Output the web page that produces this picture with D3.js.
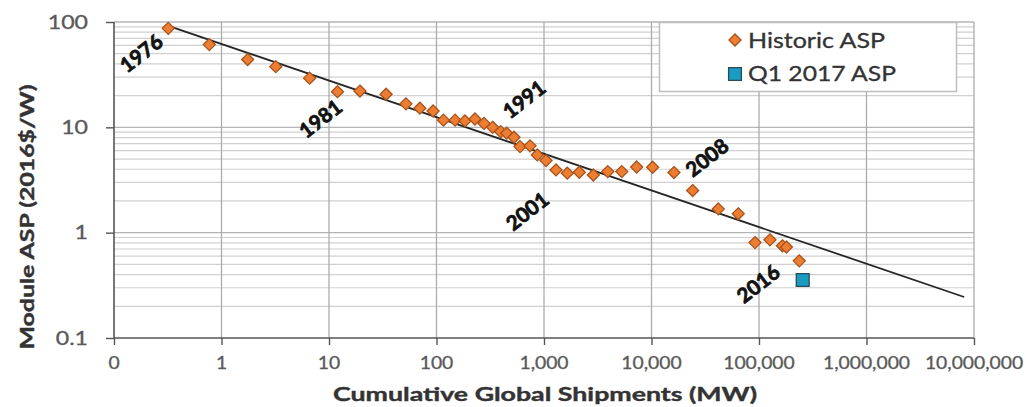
<!DOCTYPE html>
<html>
<head>
<meta charset="utf-8">
<script src="https://cdn.jsdelivr.net/npm/d3@7"></script>
<style>
  html, body { margin: 0; padding: 0; background: #ffffff; }
  svg { display: block; }
  text { font-family: Lato, "Open Sans", "DejaVu Sans", sans-serif; }
</style>
</head>
<body>
<svg id="chart" width="1026" height="407"></svg>
<script>
// Historic module average selling price vs. cumulative global shipments, 1976–2016
const firstYear = 1976;
const shipmentsMW = [0.32, 0.77, 1.75, 3.2, 6.6, 12, 19.4, 34, 52, 70,
  93, 116, 149, 184, 228, 277, 333, 395, 450, 526,
  598, 741, 866, 1045, 1294, 1648, 2130, 2877, 3920, 5290,
  7280, 10250, 16180, 24150, 41800, 64100, 91800, 126500, 165000, 180000,
  237000];
const aspDollars = [87, 61, 44, 37.7, 29.3, 21.8, 22.1, 20.6, 16.7, 15.2,
  14.3, 11.7, 11.7, 11.5, 12.0, 10.9, 10.0, 9.1, 8.8, 8.05,
  6.56, 6.67, 5.47, 4.83, 3.94, 3.67, 3.75, 3.53, 3.80, 3.80,
  4.2, 4.18, 3.72, 2.51, 1.68, 1.51, 0.805, 0.855, 0.75, 0.73,
  0.54];

// Q1 2017 point
const q1Shipments = [255000];
const q1Asp = [0.355];

// Experience-curve fit, endpoints
const trendShipments = [0.32, 8.1e6];
const trendAsp = [92, 0.245];

// Axis ticks and labels
const xTickValues = [0.1, 1, 10, 100, 1e3, 1e4, 1e5, 1e6, 1e7];
const xTickLabels = ["0", "1", "10", "100", "1,000", "10,000", "100,000", "1,000,000", "10,000,000"];
const yTickValues = [0.1, 1, 10, 100];
const yTickLabels = ["0.1", "1", "10", "100"];

// Year callouts (label offset from its point, in px)
const calloutYears = [1976, 1981, 1991, 2001, 2008, 2016];
const calloutDx = [-27, -17, 40, -40, 33, -41];
const calloutDy = [25, 27, -24, 38, -15, 23];

const seriesNames = ["Historic ASP", "Q1 2017 ASP"];

const svg = d3.select("#chart");
const plotLeft = 114, plotRight = 974, plotTop = 22, plotBottom = 338;

const x = d3.scaleLog().domain([0.1, 1e7]).range([plotLeft, plotRight]);
const y = d3.scaleLog().domain([0.1, 100]).range([plotBottom, plotTop]);

// horizontal minor gridlines
const minorY = y.ticks().filter(v => !yTickValues.includes(v));
svg.append("g").selectAll("line").data(minorY).join("line")
  .attr("x1", plotLeft).attr("x2", plotRight)
  .attr("y1", d => y(d)).attr("y2", d => y(d))
  .attr("stroke", "#d0d0d0").attr("stroke-width", 1.2);

// major gridlines
svg.append("g").selectAll("line").data(yTickValues.slice(1)).join("line")
  .attr("x1", plotLeft).attr("x2", plotRight)
  .attr("y1", d => y(d)).attr("y2", d => y(d))
  .attr("stroke", "#b4b4b4").attr("stroke-width", 1.3);
svg.append("g").selectAll("line").data(xTickValues.slice(1)).join("line")
  .attr("x1", d => x(d)).attr("x2", d => x(d))
  .attr("y1", plotTop).attr("y2", plotBottom)
  .attr("stroke", "#acacac").attr("stroke-width", 1.3);

// axes
const xAxis = d3.axisBottom(x).tickValues(xTickValues).tickSize(7).tickFormat("");
const yAxis = d3.axisLeft(y).tickValues(yTickValues).tickSize(8).tickFormat("");
const gx = svg.append("g").attr("transform", `translate(0,${plotBottom})`).call(xAxis);
const gy = svg.append("g").attr("transform", `translate(${plotLeft},0)`).call(yAxis);
[gx, gy].forEach(g => {
  g.select(".domain").attr("stroke", "#555").attr("stroke-width", 1.6);
  g.selectAll(".tick line").attr("stroke", "#555").attr("stroke-width", 1.4);
});
gx.select(".domain").attr("d", `M${plotLeft},0H${plotRight}`);
gy.select(".domain").attr("d", `M0,${plotBottom}V${plotTop}`);

// tick labels (slightly widened glyphs)
svg.append("g").selectAll("text").data(yTickValues).join("text")
  .text((d, i) => yTickLabels[i])
  .attr("text-anchor", "end").attr("dy", "0.36em")
  .attr("font-size", 18.5).attr("fill", "#595959")
  .attr("stroke", "#595959").attr("stroke-width", 0.3)
  .attr("transform", d => `translate(88,${y(d)}) scale(1.25,1)`);
svg.append("g").selectAll("text").data(xTickValues).join("text")
  .text((d, i) => xTickLabels[i])
  .attr("text-anchor", "middle")
  .attr("font-size", 16.5).attr("fill", "#595959")
  .attr("stroke", "#595959").attr("stroke-width", 0.3)
  .attr("transform", d => `translate(${x(d)},369) scale(1.17,1)`);

// axis titles
svg.append("text")
  .text("Cumulative Global Shipments (MW)")
  .attr("x", 545).attr("y", 401).attr("text-anchor", "middle")
  .attr("font-size", 19.5).attr("font-weight", "bold").attr("fill", "#333")
  .attr("stroke", "#333").attr("stroke-width", 0.4)
  .attr("textLength", 424).attr("lengthAdjust", "spacingAndGlyphs");
svg.append("text")
  .text("Module ASP (2016$/W)")
  .attr("text-anchor", "middle")
  .attr("transform", "translate(34,217) rotate(-90)")
  .attr("font-size", 19.5).attr("font-weight", "bold").attr("fill", "#333")
  .attr("stroke", "#333").attr("stroke-width", 0.4)
  .attr("textLength", 265).attr("lengthAdjust", "spacingAndGlyphs");

// trend line
const line = d3.line().x(d => x(d[0])).y(d => y(d[1]));
svg.append("path")
  .datum(trendShipments.map((s, i) => [s, trendAsp[i]]))
  .attr("d", line)
  .attr("fill", "none").attr("stroke", "#262626").attr("stroke-width", 1.8);

// historic points
const diamond = d3.symbol().type(d3.symbolDiamond2).size(92);
svg.append("g").selectAll("path").data(shipmentsMW).join("path")
  .attr("d", diamond)
  .attr("transform", (d, i) => `translate(${x(d)},${y(aspDollars[i])})`)
  .attr("fill", "#ED7D31").attr("stroke", "#A8521C").attr("stroke-width", 1.3);

// Q1 2017 point
const square = d3.symbol().type(d3.symbolSquare).size(165);
svg.append("g").selectAll("path").data(q1Shipments).join("path")
  .attr("d", square)
  .attr("transform", (d, i) => `translate(${x(d)},${y(q1Asp[i])})`)
  .attr("fill", "#1A9BC2").attr("stroke", "#2E4A58").attr("stroke-width", 1.3);

// year callouts
svg.append("g").selectAll("text").data(calloutYears).join("text")
  .text(d => d)
  .attr("text-anchor", "middle").attr("dy", "0.36em")
  .attr("font-size", 20.5).attr("font-weight", "bold").attr("fill", "#111")
  .attr("stroke", "#111").attr("stroke-width", 0.8)
  .attr("transform", (d, i) => {
    const k = d - firstYear;
    const px = x(shipmentsMW[k]) + calloutDx[i];
    const py = y(aspDollars[k]) + calloutDy[i];
    return `translate(${px},${py}) rotate(-38)`;
  });

// legend
const legend = svg.append("g");
legend.append("rect")
  .attr("x", 659.5).attr("y", 22.5).attr("width", 297).attr("height", 69)
  .attr("fill", "#fff").attr("stroke", "#bdbdbd").attr("stroke-width", 1.5);
legend.append("path").attr("d", diamond)
  .attr("transform", "translate(735,40)")
  .attr("fill", "#ED7D31").attr("stroke", "#A8521C").attr("stroke-width", 1.3);
legend.append("path").attr("d", square)
  .attr("transform", "translate(735,74)")
  .attr("fill", "#1A9BC2").attr("stroke", "#2E4A58").attr("stroke-width", 1.3);
const legendWidths = [137, 148];
legend.selectAll("text").data(seriesNames).join("text")
  .text(d => d)
  .attr("x", 748).attr("y", (d, i) => [48, 81][i])
  .attr("font-size", 20.5).attr("fill", "#333")
  .attr("stroke", "#333").attr("stroke-width", 0.3)
  .attr("textLength", (d, i) => legendWidths[i]).attr("lengthAdjust", "spacingAndGlyphs");
</script>
</body>
</html>
